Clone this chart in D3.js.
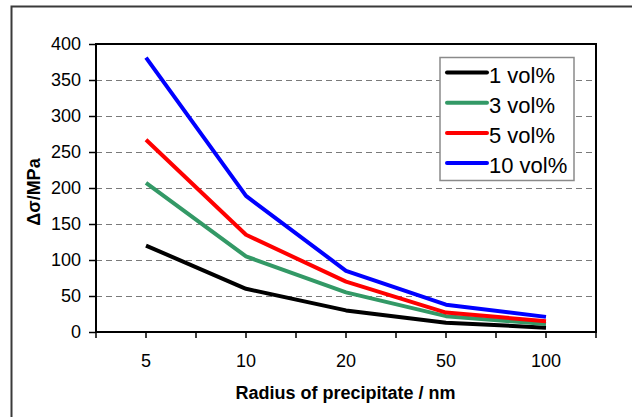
<!DOCTYPE html>
<html>
<head>
<meta charset="utf-8">
<script src="https://cdn.jsdelivr.net/npm/d3@7"></script>
<style>
  body { margin: 0; background: #fff; }
  text { font-family: Arial, "Liberation Sans", sans-serif; fill: #000; }
</style>
</head>
<body>
<svg id="chart" width="632" height="417"></svg>
<script>
// radius categories (nm) and strengthening per volume fraction
var radii = ["5", "10", "20", "50", "100"];
var yTicks = [0, 50, 100, 150, 200, 250, 300, 350, 400];
var vol1 = [120, 60, 30, 13, 6];
var vol3 = [207, 105, 55, 22, 11];
var vol5 = [267, 135, 70, 27, 15];
var vol10 = [381, 189, 85, 38, 21];
var seriesNames = ["1 vol%", "3 vol%", "5 vol%", "10 vol%"];
var seriesColors = ["#000000", "#339966", "#ff0000", "#0000ff"];

var series = [vol1, vol3, vol5, vol10].map(function(v, i) {
  return { name: seriesNames[i], color: seriesColors[i], values: v };
});

var svg = d3.select("#chart");
var plotL = 96, plotT = 44, plotR = 596, plotB = 332;

// outer chart frame (runs off the picture at right/bottom)
svg.append("rect")
  .attr("x", 11.5).attr("y", 6.5)
  .attr("width", 640).attr("height", 440)
  .attr("fill", "none").attr("stroke", "#3a3a3a").attr("stroke-width", 2);

var x = d3.scaleBand().domain(radii).range([plotL, plotR]).padding(0);
var y = d3.scaleLinear().domain([0, 400]).range([plotB, plotT]);

// dashed gridlines
svg.append("g").selectAll("line")
  .data(yTicks.filter(function(d) { return d > 0 && d < 400; }))
  .enter().append("line")
  .attr("x1", plotL).attr("x2", plotR)
  .attr("y1", function(d) { return Math.round(y(d)) + 0.5; })
  .attr("y2", function(d) { return Math.round(y(d)) + 0.5; })
  .attr("stroke", "#7a7a7a").attr("stroke-width", 1)
  .attr("stroke-dasharray", "6,4");

// plot frame
svg.append("rect")
  .attr("x", plotL).attr("y", plotT)
  .attr("width", plotR - plotL).attr("height", plotB - plotT)
  .attr("fill", "none").attr("stroke", "#000").attr("stroke-width", 2);

// y axis
var yAxis = svg.append("g")
  .attr("transform", "translate(" + plotL + ",0)")
  .call(d3.axisLeft(y).tickValues(yTicks).tickSize(7).tickPadding(8));
yAxis.select(".domain").remove();
yAxis.selectAll("line").attr("stroke", "#000").attr("stroke-width", 1.5);
yAxis.selectAll("text").attr("font-size", 18).attr("fill", "#000")
  .style("font-family", "Arial, 'Liberation Sans', sans-serif");

// x axis: ticks at band edges and centres
var xTicks = [];
radii.forEach(function(r, i) {
  xTicks.push(x(r));
  xTicks.push(x(r) + x.bandwidth() / 2);
});
xTicks.push(plotR);
svg.append("g").selectAll("line")
  .data(xTicks).enter().append("line")
  .attr("x1", function(d) { return d; }).attr("x2", function(d) { return d; })
  .attr("y1", plotB).attr("y2", plotB + 6)
  .attr("stroke", "#000").attr("stroke-width", 1.5);

svg.append("g").selectAll("text")
  .data(radii).enter().append("text")
  .attr("x", function(d) { return x(d) + x.bandwidth() / 2; })
  .attr("y", 367)
  .attr("text-anchor", "middle")
  .attr("font-size", 18)
  .text(function(d) { return d; });

// axis titles
svg.append("text")
  .attr("x", (plotL + plotR) / 2 - 0.5).attr("y", 399)
  .attr("text-anchor", "middle")
  .attr("font-size", 18).attr("font-weight", "bold")
  .text("Radius of precipitate / nm");

svg.append("text")
  .attr("transform", "translate(40,192) rotate(-90)")
  .attr("text-anchor", "middle")
  .attr("font-size", 18).attr("font-weight", "bold")
  .text("Δσ/MPa");

// lines
var line = d3.line()
  .x(function(d, i) { return x(radii[i]) + x.bandwidth() / 2; })
  .y(function(d) { return y(d); });

svg.append("g").selectAll("path")
  .data(series).enter().append("path")
  .attr("d", function(s) { return line(s.values); })
  .attr("fill", "none")
  .attr("stroke", function(s) { return s.color; })
  .attr("stroke-width", 4)
  .attr("stroke-linejoin", "round");

// legend
var lg = svg.append("g");
lg.append("rect")
  .attr("x", 440).attr("y", 57.5)
  .attr("width", 134).attr("height", 123)
  .attr("fill", "#fff").attr("stroke", "#8a8a8a").attr("stroke-width", 1.5);

var rows = lg.selectAll("g.row")
  .data(series).enter().append("g")
  .attr("transform", function(s, i) { return "translate(0," + (72.5 + i * 30.2) + ")"; });
rows.append("line")
  .attr("x1", 447).attr("x2", 487)
  .attr("stroke", function(s) { return s.color; })
  .attr("stroke-width", 4).attr("stroke-linecap", "round");
rows.append("text")
  .attr("x", 489).attr("y", 10)
  .attr("font-size", 22)
  .text(function(s) { return s.name; });
</script>
</body>
</html>
